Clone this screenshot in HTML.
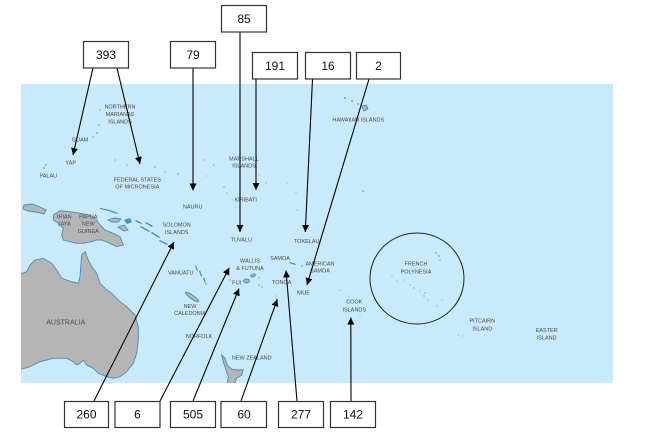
<!DOCTYPE html>
<html><head><meta charset="utf-8">
<style>
html,body{margin:0;padding:0;background:#fff;}
svg{display:block;}
.l{font-family:"Liberation Sans",Arial,sans-serif;font-size:5.5px;fill:#4a4a4a;text-anchor:middle;}
.b{font-family:"Liberation Sans",Arial,sans-serif;font-size:12px;fill:#111;text-anchor:middle;}
</style></head>
<body>
<svg width="645" height="433" viewBox="0 0 645 433" xmlns="http://www.w3.org/2000/svg">
<defs>
<marker id="ah" viewBox="0 0 10 10" refX="10" refY="5" markerWidth="7" markerHeight="7" markerUnits="userSpaceOnUse" orient="auto">
<path d="M0,0 L10,5 L0,10 z" fill="#000"/>
</marker>
<clipPath id="mc"><rect x="21" y="84" width="592" height="299"/></clipPath>
</defs>
<rect x="0" y="0" width="645" height="433" fill="#fff"/>
<rect x="21" y="84" width="592" height="299" fill="#c9e9fc"/>
<g clip-path="url(#mc)" stroke="#3f8fc2" stroke-width="0.9" fill="#b5b5b5">
<!-- Australia -->
<path d="M18,275 L26.7,271.7 L30,265 L35,260 L43.3,258.3 L51.7,263.3 L56.7,270 L61.7,278.3 L71.7,281.7 L78.3,283.3 L80,276.7 L80.7,266.7 L81.7,255 L85,251.7 L88.3,260 L91.7,266.7 L96.7,273.3 L100,283.3 L105,288.3 L111.7,293.3 L120,301.7 L126.7,306.7 L135,315 L138.3,326.7 L138.3,340 L136.7,353.3 L133.3,363.3 L126.7,371.7 L120,376.7 L113.3,378.3 L106.7,376.7 L98.3,373.3 L93.3,368.3 L86.7,365 L83.3,360 L80,363.3 L76.7,365 L73.3,361.7 L66.7,358.3 L53.3,358.3 L40,361.7 L30,366.7 L18,370 Z"/>
<!-- New Guinea -->
<path d="M53.3,215 L60,210.7 L70,211.7 L80,213.3 L90,215 L96.7,220 L100,225 L105,230 L113.3,233.3 L120,236.7 L123.3,245 L116.7,246.7 L110,243.3 L101.7,240 L96.7,240 L91.7,241.7 L83.3,243.3 L76.7,243.3 L70,241.7 L63.3,240 L61.7,235 L63.3,228.3 L58.3,223.3 L53.3,220 Z"/>
<path d="M24,205 L32,204 L40,207 L46,210 L44,214 L36,212 L28,211 L23,209 Z"/>
<path d="M108,220 L114,218 L121,219 L118,222 L112,222 Z"/>
<path d="M118,227 L124,225 L128,230 L124,231 Z"/>
<!-- New Zealand -->
<path d="M221.7,355 L225,358.3 L227.3,365 L231.7,369.3 L238.3,370 L243.3,370 L241.7,375 L236.7,378.3 L233.3,386 L226.7,386 L228.3,376.7 L226,370 L223.3,361.7 Z"/>
<!-- Hawaii -->
<path d="M362,106 L366,105 L368,109 L364,111 Z"/>
<!-- Fiji -->
<ellipse cx="246.5" cy="281" rx="3" ry="2"/>
<ellipse cx="253" cy="275.5" rx="2.5" ry="1.3" transform="rotate(-20 253 275.5)"/>
<!-- New Caledonia -->
<ellipse cx="192" cy="297" rx="8" ry="1.8" transform="rotate(35 192 297)"/>
</g>
<g clip-path="url(#mc)" fill="#3f8fc2">
<!-- Solomons chain -->
<path d="M136,220 L142,223 L141,224 L135,221 Z"/>
<path d="M141,226 L150,231 L149,232 L140,227 Z"/>
<path d="M152,232 L160,237 L159,238 L151,233 Z"/>
<path d="M160,240 L168,244 L167,245 L159,241 Z"/>
<path d="M146,222 L153,226 L152,227 L145,223 Z"/>
<!-- Bismarck -->
<path d="M100,208 L110,210 L118,213 L117,214 L109,211 L100,209 Z"/>
<path d="M124,220 L130,218 L132,222 L127,224 Z"/>
<!-- Vanuatu -->
<rect x="195" y="266" width="1.2" height="5" transform="rotate(-20 195 266)"/>
<rect x="199" y="271" width="1.2" height="6" transform="rotate(-20 199 271)"/>
<rect x="203" y="278" width="1.2" height="5" transform="rotate(-20 203 278)"/>
<circle cx="206" cy="284" r="0.8"/>
<!-- Misc islands -->
<circle cx="44" cy="168" r="0.8"/><circle cx="46" cy="165" r="0.7"/>
<circle cx="100" cy="110" r="0.6"/><circle cx="99" cy="125" r="0.7"/><circle cx="97" cy="133" r="0.7"/><circle cx="93" cy="137" r="0.6"/>
<circle cx="74" cy="148" r="0.6"/><circle cx="115" cy="160" r="0.6"/><circle cx="127" cy="165" r="0.6"/><circle cx="155" cy="167" r="0.7"/><circle cx="165" cy="172" r="0.6"/><circle cx="178" cy="174" r="0.7"/>
<circle cx="204" cy="160" r="0.6"/><circle cx="214" cy="165" r="0.6"/><circle cx="206" cy="176" r="0.5"/>
<circle cx="224" cy="187" r="0.6"/><circle cx="227" cy="193" r="0.5"/><circle cx="232" cy="200" r="0.5"/><circle cx="236" cy="207" r="0.5"/>
<circle cx="259" cy="175" r="0.5"/><circle cx="266" cy="183" r="0.5"/><circle cx="287" cy="183" r="0.5"/><circle cx="296" cy="193" r="0.5"/><circle cx="297" cy="210" r="0.5"/>
<circle cx="345" cy="98" r="0.9"/><circle cx="352" cy="101" r="0.8"/><circle cx="358" cy="104" r="0.8"/>
<circle cx="363" cy="191" r="0.8"/>
<path d="M290,262 L296,264 L295,265 L289,263 Z"/>
<circle cx="302" cy="266" r="0.7"/>
<circle cx="259" cy="285" r="0.6"/><circle cx="262" cy="287" r="0.6"/>
<circle cx="277" cy="299" r="0.7"/><circle cx="276" cy="296" r="0.5"/>
<circle cx="230" cy="280" r="0.6"/><circle cx="259" cy="278" r="0.6"/>
<circle cx="340" cy="290" r="0.5"/><circle cx="349" cy="296" r="0.5"/><circle cx="360" cy="315" r="0.5"/>
<!-- French Polynesia -->
<circle cx="436" cy="253" r="0.7"/><circle cx="439" cy="256" r="0.7"/><circle cx="440" cy="260" r="0.6"/>
<circle cx="404" cy="280" r="0.5"/><circle cx="410" cy="285" r="0.5"/><circle cx="414" cy="288" r="0.6"/><circle cx="420" cy="291" r="0.5"/><circle cx="425" cy="293" r="0.6"/>
<circle cx="424" cy="296" r="0.6"/><circle cx="428" cy="300" r="0.5"/><circle cx="442" cy="300" r="0.5"/><circle cx="437" cy="306" r="0.5"/>
<circle cx="392" cy="276" r="0.5"/><circle cx="397" cy="281" r="0.5"/>
<circle cx="458" cy="335" r="0.5"/><circle cx="463" cy="336" r="0.5"/>
</g>
<!-- French Polynesia circle -->
<ellipse cx="417" cy="278.5" rx="47" ry="45.5" fill="none" stroke="#222" stroke-width="1"/>
<!-- Labels -->
<text class="l" x="120" y="108.5">NORTHERN</text>
<text class="l" x="120" y="116">MARIANAS</text>
<text class="l" x="120" y="123.3">ISLANDS</text>
<text class="l" x="80" y="141.3">GUAM</text>
<text class="l" x="70.7" y="164.7">YAP</text>
<text class="l" x="48.3" y="177.7">PALAU</text>
<text class="l" x="137.3" y="181.3">FEDERAL STATES</text>
<text class="l" x="137.3" y="188.7">OF MICRONESIA</text>
<text class="l" x="192.7" y="208.7">NAURU</text>
<text class="l" x="176.7" y="226.7">SOLOMON</text>
<text class="l" x="176.7" y="234">ISLANDS</text>
<text class="l" x="64.3" y="218.7">IRIAN</text>
<text class="l" x="64.3" y="225.7">JAYA</text>
<text class="l" x="88.3" y="218.7">PAPUA</text>
<text class="l" x="88.3" y="225.7">NEW</text>
<text class="l" x="88.3" y="233">GUINEA</text>
<text class="l" x="244" y="160.7">MARSHALL</text>
<text class="l" x="244" y="167.3">ISLANDS</text>
<text class="l" x="245.7" y="201.3">KIRIBATI</text>
<text class="l" x="241.3" y="241.3">TUVALU</text>
<text class="l" x="306.7" y="243">TOKELAU</text>
<text class="l" x="358.3" y="121.3">HAWAIIAN ISLANDS</text>
<text class="l" x="250" y="262.3">WALLIS</text>
<text class="l" x="250" y="270">&amp; FUTUNA</text>
<text class="l" x="280" y="260">SAMOA</text>
<text class="l" x="320" y="265.3">AMERICAN</text>
<text class="l" x="320" y="272.7">SAMOA</text>
<text class="l" x="236.7" y="284.3">FIJI</text>
<text class="l" x="281.7" y="284">TONGA</text>
<text class="l" x="303.3" y="294.7">NIUE</text>
<text class="l" x="354.3" y="303.7">COOK</text>
<text class="l" x="354.3" y="311.3">ISLANDS</text>
<text class="l" x="180.7" y="274.7">VANUATU</text>
<text class="l" x="190" y="308">NEW</text>
<text class="l" x="190" y="315">CALEDONIA</text>
<text class="l" x="199" y="338">NORFOLK</text>
<text class="l" x="251.7" y="359.7">NEW ZEALAND</text>
<text class="l" x="65.7" y="324.5" style="font-size:7px">AUSTRALIA</text>
<text class="l" x="416" y="265.7">FRENCH</text>
<text class="l" x="416" y="273.7">POLYNESIA</text>
<text class="l" x="482.3" y="322.7">PITCAIRN</text>
<text class="l" x="482.3" y="330.3">ISLAND</text>
<text class="l" x="546.7" y="332">EASTER</text>
<text class="l" x="546.7" y="339.7">ISLAND</text>
<!-- Arrows -->
<g stroke="#000" stroke-width="1.1" fill="none" marker-end="url(#ah)">
<line x1="93" y1="68" x2="73" y2="155"/>
<line x1="117" y1="68" x2="140" y2="164"/>
<line x1="193" y1="68" x2="193" y2="190.5"/>
<line x1="240" y1="32" x2="240" y2="232"/>
<line x1="256" y1="79" x2="256" y2="190"/>
<line x1="312.5" y1="79" x2="305.3" y2="232"/>
<line x1="369" y1="79" x2="307" y2="285"/>
<line x1="94" y1="401" x2="174" y2="242"/>
<line x1="160" y1="401" x2="229.3" y2="267.7"/>
<line x1="193" y1="401" x2="239" y2="288.5"/>
<line x1="241" y1="401" x2="277.3" y2="299.3"/>
<line x1="297" y1="401" x2="286" y2="270.5"/>
<line x1="351" y1="401" x2="350.8" y2="317.5"/>
</g>
<!-- Boxes -->
<g fill="#fff" stroke="#333" stroke-width="1.2">
<rect x="83.5" y="41.5" width="45" height="26.5"/>
<rect x="170.5" y="41.5" width="45" height="26.5"/>
<rect x="221.5" y="5.5" width="45" height="26.5"/>
<rect x="252.5" y="52.5" width="45" height="26.5"/>
<rect x="305.5" y="52.5" width="45" height="26.5"/>
<rect x="356.5" y="52.5" width="44" height="26.5"/>
<rect x="64.5" y="401.5" width="44" height="26"/>
<rect x="115" y="401.5" width="45" height="26"/>
<rect x="170.5" y="401.5" width="45" height="26"/>
<rect x="221" y="401.5" width="45.5" height="26"/>
<rect x="278.5" y="401.5" width="45" height="26"/>
<rect x="330.5" y="401.5" width="45" height="26"/>
</g>
<text class="b" x="106" y="59">393</text>
<text class="b" x="193" y="59">79</text>
<text class="b" x="244" y="23">85</text>
<text class="b" x="275" y="70">191</text>
<text class="b" x="328" y="70">16</text>
<text class="b" x="378.5" y="70">2</text>
<text class="b" x="86.5" y="418.5">260</text>
<text class="b" x="137.5" y="418.5">6</text>
<text class="b" x="193" y="418.5">505</text>
<text class="b" x="244" y="418.5">60</text>
<text class="b" x="301" y="418.5">277</text>
<text class="b" x="353" y="418.5">142</text>
</svg>
</body></html>
